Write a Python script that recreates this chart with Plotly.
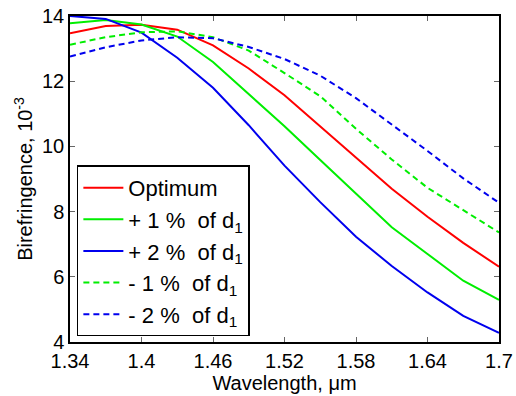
import plotly.graph_objects as go

wavelength = [1.34, 1.37, 1.40, 1.43, 1.46, 1.49, 1.52, 1.55, 1.58, 1.61, 1.64, 1.67, 1.70]
optimum = [13.47, 13.69, 13.73, 13.58, 13.10, 12.39, 11.57, 10.62, 9.65, 8.70, 7.84, 7.04, 6.31]
plus1 = [13.78, 13.88, 13.74, 13.37, 12.59, 11.62, 10.62, 9.58, 8.55, 7.52, 6.70, 5.88, 5.29]
plus2 = [14.00, 13.91, 13.49, 12.72, 11.80, 10.65, 9.41, 8.29, 7.23, 6.33, 5.52, 4.80, 4.28]
minus1 = [13.12, 13.35, 13.50, 13.53, 13.35, 12.94, 12.25, 11.54, 10.54, 9.60, 8.73, 8.05, 7.36]
minus2 = [12.76, 13.04, 13.25, 13.35, 13.32, 13.05, 12.68, 12.17, 11.48, 10.68, 9.86, 9.02, 8.27]

names = ["Optimum", "+ 1 %  of d<sub>1</sub>", "+ 2 %  of d<sub>1</sub>",
         "- 1 %  of d<sub>1</sub>", "- 2 %  of d<sub>1</sub>"]
series = [optimum, plus1, plus2, minus1, minus2]
colors = ["#ff0000", "#00ee00", "#0000ee", "#00ee00", "#0000ee"]
dashes = ["solid", "solid", "solid", "6px,4px", "6px,4px"]

fig = go.Figure()
for n, s, c, d in zip(names, series, colors, dashes):
    fig.add_trace(go.Scatter(x=wavelength, y=s, mode="lines", name=n,
                             line=dict(color=c, width=2, dash=d)))

axis_common = dict(showline=True, linecolor="black", linewidth=1.5, mirror="ticks",
                   ticks="inside", ticklen=5, tickcolor="#666", showgrid=False,
                   zeroline=False, automargin=False,
                   tickfont=dict(size=20, color="black"))
fig.update_xaxes(range=[1.34, 1.70], tickvals=[1.34, 1.4, 1.46, 1.52, 1.58, 1.64, 1.7],
                 ticktext=["1.34", "1.4", "1.46", "1.52", "1.58", "1.64", "1.7"],
                 title=dict(text="Wavelength, μm", font=dict(size=20, color="black"), standoff=0),
                 **axis_common)
fig.update_yaxes(range=[4, 14], tickvals=[4, 6, 8, 10, 12, 14],
                 title=dict(text="Birefringence, 10<sup>-3</sup>", font=dict(size=20, color="black"), standoff=4),
                 **axis_common)
fig.update_layout(
    width=516, height=396,
    margin=dict(l=70, r=17, t=16, b=54),
    paper_bgcolor="white", plot_bgcolor="white",
    font=dict(family="Liberation Sans, Arial, sans-serif", color="black"),
    legend=dict(x=0.016, y=0.017, xanchor="left", yanchor="bottom",
                bordercolor="black", borderwidth=1.5, bgcolor="white",
                font=dict(size=22, color="black"), tracegroupgap=0,
                itemwidth=40),
)
fig.write_html("out.html")
